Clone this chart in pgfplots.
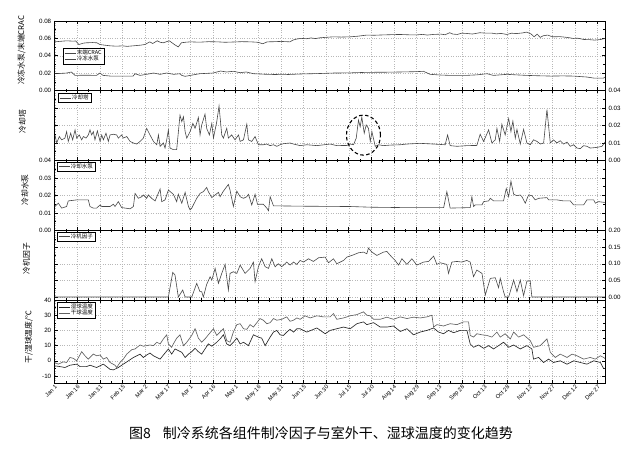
\documentclass[border=0pt]{standalone}
\usepackage{fontspec}
\setmainfont{Liberation Sans}
\newfontfamily\cjk{Noto Sans CJK SC}
\usepackage{pgfplots}
\pgfplotsset{compat=1.18}
\pgfplotsset{
  panel/.style={
    scale only axis, width=550.3pt, xmin=0, xmax=365,
    xtick={0,15,...,360}, minor x tick num=1, xticklabels={},
    minor y tick num=1, scaled y ticks=false,
    tick align=inside, major tick length=3pt, minor tick length=1.6pt,
    axis line style={line width=0.9pt},
    every tick/.style={black, line width=0.5pt},
    grid=major, major grid style={dotted, black!28, line width=0.35pt},
    tick label style={font=\fontsize{6.2}{7}\selectfont},
    /pgf/number format/assume math mode=true,
    ylabel style={font=\cjk\fontsize{7.8}{9}\selectfont, anchor=center},
    legend style={draw=black, line width=0.4pt, fill=white, inner xsep=1.2pt, inner ysep=0.6pt,
      font=\cjk\fontsize{5.5}{6}\selectfont, row sep=-1.8pt, nodes={inner sep=1pt}},
    legend cell align=left,
    legend image code/.code={\draw[##1] (0pt,0pt) -- (11pt,0pt);},
  },
  leg/.style 2 args={legend style={at={(#1,#2)}, anchor=north west}},
  yl/.style 2 args={ylabel style={at={(axis description cs:#1,#2)}}},
  fix2/.style={yticklabel style={/pgf/number format/fixed, /pgf/number format/fixed zerofill, /pgf/number format/precision=2}},
  ser/.style={line width=0.6pt, color=black!72},
}
\begin{document}
\begin{tikzpicture}[x=1pt,y=1pt]
\useasboundingbox (0,0) rectangle (631,463);

% Panel 1
\begin{axis}[panel, at={(54.7pt,372.5pt)}, anchor=south west, height=69.5pt,
  ymin=0, ymax=0.08, ytick={0,0.02,0.04,0.06,0.08}, fix2,
  ylabel={冷冻水泵/末端CRAC}, yl={-0.0603}{0.58}, leg={0.015}{0.61}]
\addplot[ser] coordinates {(0,0.0560)(3,0.0565)(8,0.0572)(12,0.0568)(14,0.0570)(16,0.0529)(19,0.0545)(21,0.0549)(25,0.0552)(28,0.0549)(30,0.0529)(34,0.0520)(37,0.0514)(41,0.0510)(45,0.0514)(48,0.0508)(52,0.0514)(57,0.0522)(60,0.0530)(63,0.0560)(65,0.0541)(68,0.0572)(70,0.0555)(72,0.0549)(76,0.0572)(80,0.0522)(82,0.0502)(84,0.0549)(87,0.0556)(90,0.0560)(96,0.0556)(102,0.0562)(108,0.0560)(113,0.0555)(118,0.0558)(124,0.0562)(130,0.0560)(134,0.0556)(136,0.0549)(138,0.0538)(141,0.0560)(146,0.0562)(150,0.0565)(156,0.0560)(158,0.0580)(160,0.0590)(163,0.0600)(167,0.0596)(170,0.0605)(173,0.0598)(176,0.0607)(180,0.0612)(185,0.0618)(190,0.0615)(196,0.0618)(201,0.0625)(207,0.0638)(212,0.0636)(218,0.0640)(224,0.0643)(229,0.0645)(235,0.0641)(240,0.0640)(244,0.0646)(247,0.0638)(251,0.0645)(256,0.0649)(259,0.0642)(262,0.0665)(264,0.0650)(267,0.0645)(270,0.0660)(273,0.0657)(277,0.0650)(282,0.0665)(286,0.0660)(290,0.0660)(293,0.0652)(296,0.0657)(300,0.0645)(303,0.0660)(306,0.0655)(310,0.0662)(313,0.0672)(316,0.0650)(318,0.0618)(320,0.0649)(322,0.0611)(324,0.0630)(327,0.0638)(329,0.0625)(331,0.0618)(335,0.0620)(340,0.0611)(342,0.0605)(344,0.0599)(347,0.0602)(351,0.0587)(355,0.0585)(358,0.0580)(362,0.0587)(365,0.0599)};
\addlegendentry{末端CRAC}
\addplot[ser] coordinates {(0,0.0193)(4,0.0197)(8,0.0201)(11,0.0213)(13.5,0.0174)(20,0.0176)(27.8,0.0174)(30,0.0201)(32,0.0174)(37,0.0166)(45,0.0166)(52,0.0166)(53.3,0.0193)(56.6,0.0174)(61,0.0186)(65.5,0.0201)(70,0.0186)(74,0.0201)(79,0.0186)(83,0.0193)(84.3,0.0174)(86.5,0.0163)(90,0.0174)(96,0.0193)(105,0.0201)(110,0.0224)(114,0.0213)(118.5,0.0221)(123,0.0205)(127,0.0213)(132,0.0193)(141,0.0186)(152,0.0182)(163,0.0190)(175,0.0195)(185,0.0201)(196,0.0203)(207,0.0209)(218,0.0210)(229,0.0213)(240,0.0217)(244.6,0.0221)(249,0.0186)(256,0.0178)(262,0.0174)(273,0.0174)(280,0.0180)(286.7,0.0193)(291,0.0174)(300,0.0186)(306,0.0180)(313,0.0174)(320,0.0170)(329,0.0166)(337,0.0168)(344,0.0166)(353,0.0155)(357.5,0.0143)(364,0.0143)(365,0.0155)};
\addlegendentry{冷冻水泵}
\end{axis}

% Panel 2
\begin{axis}[panel, at={(54.7pt,302.5pt)}, anchor=south west, height=70pt,
  ymin=0, ymax=0.04, ytick={0,0.01,0.02,0.03,0.04}, fix2, yticklabel pos=right,
  ylabel={冷却塔}, yl={-0.0585}{0.557}, leg={0.006}{0.964}]
\addplot[ser] coordinates {(0.2,0.0146)(1.3,0.0100)(3.1,0.0137)(4.6,0.0118)(6.8,0.0128)(7.9,0.0165)(9.0,0.0109)(10.6,0.0156)(11.9,0.0118)(13.5,0.0175)(14.6,0.0128)(16.3,0.0146)(17.9,0.0118)(19.0,0.0137)(20.8,0.0128)(22.3,0.0146)(23.4,0.0175)(24.5,0.0146)(25.6,0.0165)(26.7,0.0118)(28.3,0.0169)(30.1,0.0109)(31.2,0.0146)(32.3,0.0118)(34.0,0.0156)(35.6,0.0109)(36.7,0.0146)(38.9,0.0150)(41.1,0.0146)(42.2,0.0128)(44.4,0.0146)(45.5,0.0128)(47.8,0.0137)(50.0,0.0109)(52.2,0.0100)(54.4,0.0094)(56.6,0.0109)(58.8,0.0128)(61.0,0.0184)(63.2,0.0146)(65.5,0.0109)(67.7,0.0090)(68.8,0.0146)(69.9,0.0081)(72.1,0.0100)(73.2,0.0071)(74.3,0.0118)(75.4,0.0175)(76.5,0.0071)(78.7,0.0062)(80.9,0.0062)(83.1,0.0259)(84.3,0.0222)(85.4,0.0250)(86.5,0.0165)(87.6,0.0128)(89.8,0.0165)(91.6,0.0212)(93.1,0.0184)(95.3,0.0246)(96.4,0.0146)(97.5,0.0203)(99.7,0.0265)(100.8,0.0184)(102.6,0.0146)(104.2,0.0212)(105.3,0.0128)(107.5,0.0222)(109.0,0.0312)(110.8,0.0146)(111.9,0.0128)(114.1,0.0184)(115.2,0.0128)(117.4,0.0146)(119.6,0.0118)(121.9,0.0146)(123.0,0.0109)(125.2,0.0118)(127.4,0.0207)(128.5,0.0118)(130.7,0.0109)(132.9,0.0137)(135.1,0.0090)(138.4,0.0090)(140.7,0.0094)(142.9,0.0085)(145.1,0.0090)(147.3,0.0081)(149.5,0.0090)(151.7,0.0096)(156.1,0.0100)(158.4,0.0094)(162.8,0.0085)(167.2,0.0090)(173.9,0.0085)(182.7,0.0094)(187.1,0.0085)(193.8,0.0086)(196.0,0.0094)(198.2,0.0090)(200.0,0.0128)(201.5,0.0231)(202.6,0.0193)(203.7,0.0248)(205.3,0.0156)(206.6,0.0203)(208.1,0.0184)(209.3,0.0109)(210.4,0.0165)(212.6,0.0081)(214.8,0.0090)(218.1,0.0085)(222.5,0.0088)(229.2,0.0090)(233.6,0.0094)(242.4,0.0098)(251.3,0.0094)(259.0,0.0090)(260.6,0.0146)(262.3,0.0085)(266.8,0.0081)(273.4,0.0085)(280.0,0.0086)(282.2,0.0150)(284.5,0.0109)(287.8,0.0175)(290.0,0.0100)(292.2,0.0118)(293.3,0.0184)(295.1,0.0109)(296.6,0.0207)(298.8,0.0146)(301.1,0.0240)(302.6,0.0165)(303.9,0.0225)(305.5,0.0128)(306.6,0.0178)(308.8,0.0094)(311.0,0.0178)(313.2,0.0100)(315.4,0.0090)(317.6,0.0118)(319.9,0.0109)(322.1,0.0094)(324.3,0.0100)(326.5,0.0291)(328.7,0.0100)(330.9,0.0118)(333.1,0.0100)(335.3,0.0113)(337.5,0.0094)(339.8,0.0105)(342.0,0.0081)(344.2,0.0090)(346.4,0.0071)(348.6,0.0068)(350.8,0.0085)(353.0,0.0081)(355.2,0.0071)(359.7,0.0075)(363.0,0.0081)(365,0.0105)};
\addlegendentry{冷却塔}
\draw[line width=1.1pt, dash pattern=on 3.5pt off 2.5pt] (axis cs:204.8,0.0145) ellipse [x radius=17pt, y radius=20pt];
\end{axis}

% Panel 3
\begin{axis}[panel, at={(54.7pt,232.5pt)}, anchor=south west, height=70pt,
  ymin=0, ymax=0.04, ytick={0,0.01,0.02,0.03,0.04}, fix2,
  ylabel={冷却水泵}, yl={-0.054}{0.58}, leg={0.004}{0.98}]
\addplot[ser] coordinates {(0,0.0137)(2.4,0.0156)(4.6,0.0128)(7.9,0.0137)(9.0,0.0169)(14.6,0.0175)(22.3,0.0175)(23.4,0.0137)(25.6,0.0128)(27.8,0.0128)(30.1,0.0146)(31.2,0.0137)(36.7,0.0137)(38.9,0.0150)(40.0,0.0137)(42.2,0.0165)(44.4,0.0131)(50.0,0.0124)(52.2,0.0137)(53.3,0.0212)(55.5,0.0184)(57.7,0.0193)(58.8,0.0203)(61.0,0.0184)(62.1,0.0203)(64.3,0.0184)(66.6,0.0169)(69.9,0.0237)(71.0,0.0165)(73.2,0.0175)(75.4,0.0231)(78.7,0.0207)(80.9,0.0165)(82.0,0.0207)(84.3,0.0156)(86.5,0.0218)(88.7,0.0137)(89.8,0.0118)(90.9,0.0128)(94.2,0.0184)(96.4,0.0212)(98.6,0.0222)(100.8,0.0246)(101.9,0.0222)(104.2,0.0188)(106.4,0.0203)(108.6,0.0218)(109.7,0.0193)(111.9,0.0225)(115.2,0.0263)(116.3,0.0231)(118.5,0.0137)(120.8,0.0225)(123.0,0.0193)(125.2,0.0184)(127.4,0.0193)(128.5,0.0207)(130.7,0.0146)(132.9,0.0207)(134.5,0.0150)(138.4,0.0150)(140.7,0.0128)(141.8,0.0113)(142.9,0.0193)(145.1,0.0141)(163,0.0139)(196,0.0137)(210,0.0133)(230,0.0131)(258,0.0131)(260.1,0.0222)(262.3,0.0128)(275.6,0.0131)(276.7,0.0193)(277.8,0.0137)(278.9,0.0146)(283.4,0.0146)(284.5,0.0165)(287.8,0.0169)(288.9,0.0184)(291.1,0.0169)(297.7,0.0169)(299.5,0.0240)(301.1,0.0193)(302.6,0.0282)(304.4,0.0207)(306.6,0.0199)(308.8,0.0203)(309.9,0.0193)(312.1,0.0156)(314.3,0.0203)(316.5,0.0199)(318.7,0.0175)(321.0,0.0184)(326.5,0.0188)(327.6,0.0175)(333.1,0.0175)(337.5,0.0169)(342.0,0.0169)(344.2,0.0146)(350.8,0.0146)(353.0,0.0175)(357.5,0.0175)(358.6,0.0156)(360.8,0.0165)(364.1,0.0161)(365,0.0161)};
\addlegendentry{冷却水泵}
\end{axis}

% Panel 4
\begin{axis}[panel, at={(54.7pt,163pt)}, anchor=south west, height=69.5pt,
  ymin=-0.009, ymax=0.2, ytick={0,0.05,0.1,0.15,0.2}, fix2, yticklabel pos=right,
  ylabel={冷机因子}, yl={-0.0516}{0.597}, leg={0.004}{0.98}]
\addplot[ser] coordinates {(0,0)(75.4,0)(78.3,0.074)(79.8,0.066)(82.0,0)(84.9,0.021)(86.5,0)(90.9,0)(94.2,0.041)(96.4,0.016)(97.5,0.016)(98.6,0)(100.8,0.038)(103.1,0.061)(104.2,0.051)(106.4,0.086)(108.6,0.041)(110.8,0.071)(113.0,0.098)(115.2,0.021)(116.3,0.071)(118.5,0.076)(120.8,0.071)(123.0,0.096)(126.3,0.071)(129.6,0.086)(131.8,0.105)(132.9,0.046)(135.1,0.091)(137.3,0.115)(139.6,0.091)(141.8,0.086)(144.0,0.115)(146.2,0.091)(148.4,0.100)(150.6,0.091)(153.9,0.105)(156.1,0.096)(158.4,0.105)(160.6,0.098)(162.8,0.110)(165.0,0.105)(168.3,0.115)(171.6,0.107)(175.0,0.118)(179.4,0.120)(181.6,0.103)(184.9,0.115)(187.1,0.100)(191.6,0.110)(193.8,0.120)(197.1,0.125)(201.5,0.133)(204.8,0.135)(207.0,0.130)(208.1,0.147)(210.4,0.135)(213.7,0.125)(218.1,0.135)(220.3,0.137)(223.6,0.120)(225.8,0.110)(228.1,0.096)(230.3,0.115)(233.6,0.098)(236.9,0.115)(240.2,0.096)(244.6,0.105)(248.0,0.107)(251.3,0.123)(253.5,0.098)(255.7,0.103)(260.1,0.098)(261.2,0.071)(263.4,0.105)(266.8,0.107)(270.1,0.105)(273.4,0.110)(275.6,0.105)(277.8,0.061)(280.0,0.081)(283.4,0.071)(285.6,0.006)(288.9,0.056)(292.2,0.058)(294.4,0.028)(295.5,0.056)(297.7,0.016)(298.8,0)(301.1,0)(304.4,0.051)(306.6,0.016)(308.8,0.051)(311.0,0.004)(313.2,0.048)(315.4,0.048)(316.5,0)(365,0)};
\addlegendentry{冷机因子}
\end{axis}

% Panel 5
\begin{axis}[panel, at={(54.7pt,80pt)}, anchor=south west, height=83pt,
  ymin=-14.6, ymax=40, ytick={-10,0,10,20,30,40},
  xticklabels={Jan 1,Jan 16,Jan 31,Feb 15,Mar 2,Mar 17,Apr 1,Apr 16,May 1,May 16,May 31,Jun 15,Jun 30,Jul 15,Jul 30,Aug 14,Aug 29,Sep 13,Sep 28,Oct 13,Oct 28,Nov 12,Nov 27,Dec 12,Dec 27},
  xticklabel style={rotate=45, anchor=north east, inner sep=1pt, font=\fontsize{5.8}{6.5}\selectfont},
  ylabel={干/湿球温度/℃}, yl={-0.0472}{0.554}, leg={0.004}{0.975}]
\addplot[line width=0.65pt, color=black!85] coordinates {(0,-3.3)(3.5,-3.8)(6.8,-4.4)(10.1,-2.9)(14.6,-2.2)(16.8,-3.8)(21.2,-3.8)(23.4,-2.9)(27.8,-4.4)(32.3,-2.2)(36.7,-5.6)(38.9,-6.0)(42.2,-4.4)(45.5,-2.2)(48.9,0)(52.2,2.2)(54.4,3.3)(56.6,4.4)(58.8,2.2)(61.0,3.8)(63.2,5.1)(65.5,3.3)(67.7,2.2)(69.9,1.1)(72.1,3.8)(75.4,7.8)(77.6,4.4)(79.8,7.8)(82.0,6.7)(84.3,5.6)(86.5,2.2)(88.7,4.4)(90.9,6.0)(93.1,8.2)(95.3,6.0)(97.5,4.4)(99.7,7.8)(101.9,11.1)(104.2,9.6)(107.5,12.2)(109.7,14.4)(111.9,17.1)(114.1,11.1)(116.3,10.0)(118.5,12.2)(120.8,14.9)(123.0,11.1)(125.2,12.2)(128.5,10.0)(131.8,17.1)(135.1,15.6)(137.3,14.9)(139.6,10.0)(142.9,15.6)(145.1,18.9)(147.3,20.0)(149.5,17.1)(151.7,16.7)(153.9,18.9)(156.1,20.7)(158.4,18.9)(160.6,21.1)(162.8,21.1)(167.2,18.9)(173.9,21.6)(179.4,17.8)(182.7,20.0)(187.1,21.1)(191.6,22.2)(196.0,21.1)(200.4,24.4)(204.8,25.6)(207.0,23.8)(211.5,25.1)(215.9,22.2)(220.3,22.2)(224.7,22.9)(229.2,19.3)(233.6,21.1)(238.0,17.1)(242.4,18.9)(246.9,20.0)(251.3,21.6)(254.6,18.9)(257.9,17.8)(261.2,20.0)(264.6,18.5)(269.0,20.0)(273.4,20.0)(275.6,11.1)(277.8,8.9)(281.1,10.4)(284.5,8.2)(287.8,10.0)(291.1,7.8)(294.4,10.0)(297.7,12.2)(301.1,8.9)(304.4,10.4)(308.8,7.8)(313.2,10.0)(316.5,7.8)(317.6,1.1)(320.9,2.2)(324.3,-1.1)(327.6,1.1)(330.9,-1.1)(335.3,0)(339.8,-2.2)(344.2,0)(348.6,-1.1)(353.0,-2.2)(357.5,0)(361.9,-1.1)(364.1,-5.1)(365,-5.1)};
\addlegendentry{湿球温度}
\addplot[line width=0.65pt, color=black!62] coordinates {(0,-1.1)(2.4,-2.2)(5.7,-0.7)(7.9,-1.1)(10.1,2.2)(12.4,1.6)(14.6,0)(17.9,6.0)(20.1,3.3)(22.3,1.1)(25.6,4.4)(27.8,3.3)(30.1,3.8)(32.3,1.1)(34.5,2.2)(36.7,-1.1)(40.0,-2.9)(41.1,-4.4)(43.3,-1.1)(45.5,1.1)(47.8,4.4)(51.1,7.3)(53.3,7.8)(56.6,10.4)(58.8,9.6)(61.0,10.0)(63.2,10.4)(65.5,10.0)(67.7,12.2)(69.9,11.1)(72.1,14.4)(74.3,17.1)(75.4,11.1)(77.6,8.9)(78.7,11.1)(80.9,14.9)(83.1,17.1)(85.4,10.0)(87.6,12.2)(90.9,16.7)(93.1,21.1)(95.3,14.9)(97.5,12.2)(99.7,14.4)(101.9,17.1)(105.3,21.1)(107.5,16.7)(109.7,18.9)(111.9,21.1)(114.1,13.3)(116.3,12.2)(118.5,18.9)(120.8,23.8)(123.0,24.4)(125.2,21.1)(127.4,20.7)(129.6,23.8)(131.8,22.2)(136.2,27.8)(138.4,26.7)(140.7,24.4)(142.9,25.1)(145.1,27.8)(147.3,26.7)(150.6,27.3)(153.9,28.9)(156.1,26.0)(158.4,26.7)(160.6,28.2)(162.8,27.3)(166.1,29.6)(169.4,28.2)(173.9,29.6)(178.3,28.9)(182.7,28.9)(184.9,31.1)(187.1,27.3)(191.6,28.2)(196.0,29.6)(200.4,30.4)(204.8,32.2)(207.0,30.0)(209.3,29.6)(211.5,27.3)(215.9,27.3)(220.3,28.7)(224.7,27.3)(229.2,28.9)(233.6,27.8)(238.0,28.7)(242.4,28.2)(246.9,28.9)(250.2,30.0)(251.3,22.2)(253.5,23.8)(257.9,22.9)(262.3,24.4)(266.8,23.8)(271.2,25.6)(274.5,25.6)(275.6,16.7)(277.8,15.6)(280.0,17.8)(283.4,17.1)(286.7,16.7)(290.0,15.6)(293.3,18.9)(295.5,15.6)(298.8,17.8)(302.2,14.4)(304.4,18.9)(307.7,15.6)(311.0,17.1)(315.4,13.3)(317.6,8.9)(322.1,10.0)(326.5,14.4)(328.7,5.6)(332.0,2.2)(335.3,4.4)(339.8,2.2)(343.1,4.4)(346.4,3.3)(350.8,1.1)(355.2,2.2)(358.6,1.1)(361.9,3.3)(364.1,2.2)(365,1.5)};
\addlegendentry{干球温度}
\end{axis}

\node[font=\cjk\fontsize{14}{16}\selectfont, inner sep=0pt] at (321pt,29.5pt) {图8\hspace{0.85em}制冷系统各组件制冷因子与室外干、湿球温度的变化趋势};
\end{tikzpicture}
\end{document}
